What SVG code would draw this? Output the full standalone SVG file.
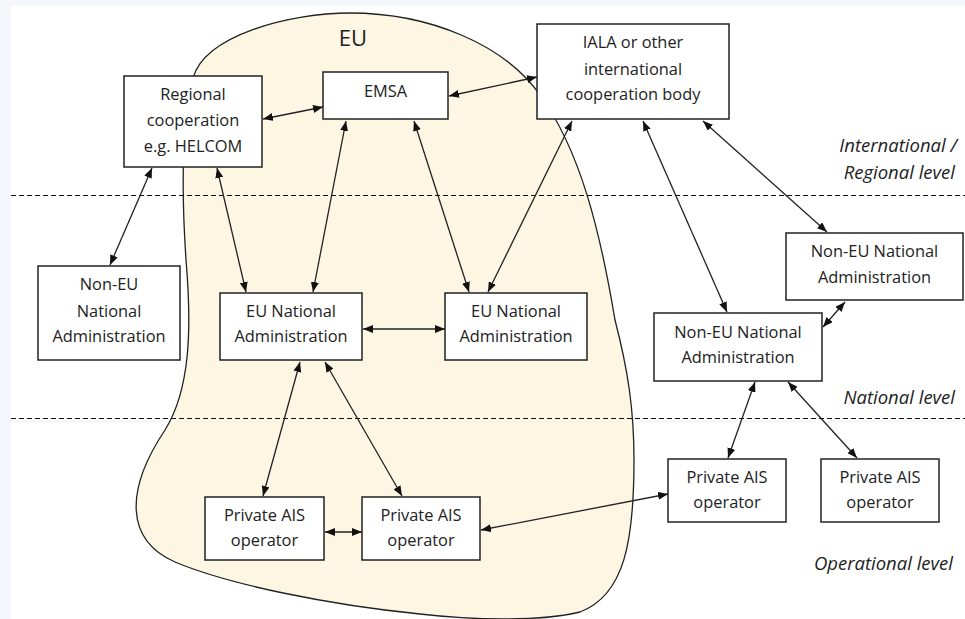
<svg xmlns="http://www.w3.org/2000/svg" width="965" height="619" viewBox="0 0 965 619">
<style>
.box{fill:#fff;stroke:#222;stroke-width:1.5}
.t{font-family:"Open Sans","Noto Sans",sans-serif;font-size:16.4px;fill:#222;text-anchor:middle}
.lv{font-family:"Open Sans","Noto Sans",sans-serif;font-size:18.5px;font-style:italic;fill:#222;text-anchor:end}
.c{stroke:#222;stroke-width:1.3;fill:none;marker-start:url(#ah);marker-end:url(#ah)}
.dash{stroke:#111;stroke-width:1.1;stroke-dasharray:5,3}
</style>
<defs>
<marker id="ah" markerUnits="userSpaceOnUse" markerWidth="10" markerHeight="8" refX="10" refY="4" orient="auto-start-reverse">
<path d="M0,0 L10,4 L0,8 Z" fill="#111"/>
</marker>
</defs>
<rect x="0" y="0" width="965" height="619" fill="#ffffff"/>
<rect x="0" y="0" width="965" height="6" fill="#f4f8fc"/>
<rect x="0" y="0" width="11" height="619" fill="#f4f8fc"/>
<g id="eu-region">
<path d="M193,78 C205,35 290,13 350,13 C430,13 505,45 540,95 C580,150 600,230 615,320 C628,370 634,410 634,460 C634,540 625,595 580,612 C540,622 470,620 420,614 C330,605 230,585 175,562 C125,540 125,490 165,430 C190,390 192,330 186,260 C182,200 180,130 193,78 Z" fill="#fdf6e3" stroke="#222" stroke-width="1.3"/>
<text x="353" y="46" font-family="'Open Sans','Noto Sans',sans-serif" font-size="22" fill="#222" text-anchor="middle">EU</text>
</g>
<g id="levels">
<line class="dash" x1="11" y1="195.5" x2="965" y2="195.5"/>
<line class="dash" x1="11" y1="418.5" x2="965" y2="418.5"/>
<text class="lv" x="957" y="152">International /</text>
<text class="lv" x="955" y="179">Regional level</text>
<text class="lv" x="955" y="404">National level</text>
<text class="lv" x="953" y="570">Operational level</text>
</g>
<g id="connectors">
<line class="c" x1="263" y1="119" x2="323" y2="107"/>
<line class="c" x1="449" y1="96" x2="537" y2="77"/>
<line class="c" x1="152" y1="168" x2="110" y2="265"/>
<line class="c" x1="217" y1="168" x2="246" y2="292"/>
<line class="c" x1="346" y1="121" x2="313" y2="292"/>
<line class="c" x1="414" y1="121" x2="469" y2="292"/>
<line class="c" x1="572" y1="121" x2="488" y2="292"/>
<line class="c" x1="643" y1="121" x2="727" y2="312"/>
<line class="c" x1="703" y1="121" x2="827" y2="232"/>
<line class="c" x1="845" y1="302" x2="823" y2="327"/>
<line class="c" x1="363" y1="329" x2="445" y2="329"/>
<line class="c" x1="300" y1="362" x2="263" y2="496"/>
<line class="c" x1="325" y1="362" x2="402" y2="496"/>
<line class="c" x1="325" y1="532" x2="362" y2="532"/>
<line class="c" x1="481" y1="530" x2="668" y2="494"/>
<line class="c" x1="755" y1="382" x2="728" y2="458"/>
<line class="c" x1="788" y1="382" x2="857" y2="458"/>
</g>
<g id="regional">
<rect class="box" x="124" y="76" width="138" height="91"/>
<text class="t" x="193" y="100">Regional</text>
<text class="t" x="193" y="126">cooperation</text>
<text class="t" x="193" y="152">e.g. HELCOM</text>
</g>
<g id="emsa">
<rect class="box" x="323" y="72" width="125" height="47"/>
<text class="t" x="385.5" y="97">EMSA</text>
</g>
<g id="iala">
<rect class="box" x="537" y="24" width="192" height="95"/>
<text class="t" x="633" y="48">IALA or other</text>
<text class="t" x="633" y="75">international</text>
<text class="t" x="633" y="100">cooperation body</text>
</g>
<g id="nonEU-left">
<rect class="box" x="38" y="266" width="142" height="94"/>
<text class="t" x="109" y="290">Non-EU</text>
<text class="t" x="109" y="317">National</text>
<text class="t" x="109" y="342">Administration</text>
</g>
<g id="eu-na1">
<rect class="box" x="220" y="293" width="142" height="67"/>
<text class="t" x="291" y="317">EU National</text>
<text class="t" x="291" y="342">Administration</text>
</g>
<g id="eu-na2">
<rect class="box" x="445" y="293" width="142" height="67"/>
<text class="t" x="516" y="317">EU National</text>
<text class="t" x="516" y="342">Administration</text>
</g>
<g id="nonEU-right">
<rect class="box" x="786" y="233" width="177" height="67"/>
<text class="t" x="874.5" y="257">Non-EU National</text>
<text class="t" x="874.5" y="283">Administration</text>
</g>
<g id="nonEU-mid">
<rect class="box" x="654" y="313" width="168" height="68"/>
<text class="t" x="738" y="338">Non-EU National</text>
<text class="t" x="738" y="363">Administration</text>
</g>
<g id="ais1">
<rect class="box" x="205" y="497" width="119" height="63"/>
<text class="t" x="264.5" y="521">Private AIS</text>
<text class="t" x="264.5" y="546">operator</text>
</g>
<g id="ais2">
<rect class="box" x="362" y="497" width="118" height="63"/>
<text class="t" x="421" y="521">Private AIS</text>
<text class="t" x="421" y="546">operator</text>
</g>
<g id="ais3">
<rect class="box" x="668" y="459" width="118" height="63"/>
<text class="t" x="727" y="483">Private AIS</text>
<text class="t" x="727" y="508">operator</text>
</g>
<g id="ais4">
<rect class="box" x="821" y="459" width="118" height="63"/>
<text class="t" x="880" y="483">Private AIS</text>
<text class="t" x="880" y="508">operator</text>
</g>
</svg>
